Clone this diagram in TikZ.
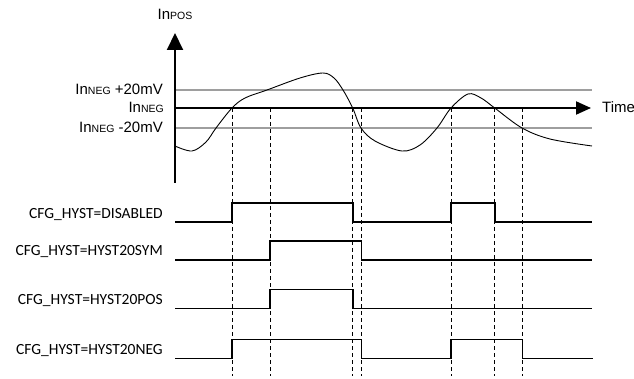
\documentclass[tikz,border=0pt]{standalone}
\usepackage{fontspec}
\setmainfont{Liberation Sans}
\newfontfamily\calfont{Carlito}
\usetikzlibrary{arrows.meta}
\tikzset{
  axisline/.style={line width=2pt, black},
  refline/.style={line width=1.5pt, black!38},
  guide/.style={line width=0.9pt, black, dash pattern=on 4pt off 3pt},
  sig/.style={line width=1.6pt, black, line join=miter},
  toplabel/.style={inner sep=0pt, font=\fontsize{15}{18}\selectfont},
  siglabel/.style={inner sep=0pt, anchor=base east, font=\calfont\fontsize{15.5}{18}\selectfont},
}
\newcommand{\smallc}[1]{{\fontsize{10.5}{12}\selectfont #1}}
\begin{document}
\begin{tikzpicture}[x=1pt,y=-1pt]
\useasboundingbox (0,0) rectangle (634,379);
% reference lines
\draw[refline] (175,90) -- (592,90);
\draw[refline] (175,128) -- (592,128);
% curve
\draw[line width=0.9pt] plot[smooth, tension=0.55] coordinates {
 (175,146) (192,151) (206,142) (216,128) (232,108) (245,98) (267,90) (300,78)
 (323,73) (334,78) (343,90) (352.7,108) (361,128) (375,141) (402,151) (420,145)
 (437,128) (451,108) (468,94) (481,98) (494.7,108) (522,128) (550,139) (592,146)};
% axes
\draw[axisline, -{Triangle[length=17pt,width=16pt]}] (175,183) -- (175,33);
\draw[axisline, -{Triangle[length=15pt,width=13pt]}] (175,108) -- (591,108);
% labels
\node[toplabel, anchor=base] (inpos) at (175,20) {In\smallc{POS}};
\node[toplabel, anchor=base east] (lp) at (163,95) {In\smallc{NEG} +20mV};
\node[toplabel, anchor=base east] (ln) at (164,113) {In\smallc{NEG}};
\node[toplabel, anchor=base east] (lm) at (163,132.7) {In\smallc{NEG} -20mV};
\node[toplabel, anchor=base west] (time) at (602,113) {Time};
% guides
\foreach \x in {232,270,352.7,361.3,451,494.7,522.3}
  \draw[guide] (\x,108) -- (\x,376);
% signals
\draw[sig] (175,222.3) -- (232,222.3) -- (232,203.3) -- (352.7,203.3) -- (352.7,222.3)
  -- (451,222.3) -- (451,203.3) -- (494.7,203.3) -- (494.7,222.3) -- (592,222.3);
\draw[sig] (175,260) -- (270,260) -- (270,241.3) -- (361.3,241.3) -- (361.3,260) -- (592,260);
\draw[sig] (175,308.3) -- (270,308.3) -- (270,289.3) -- (352.7,289.3) -- (352.7,308.3) -- (592,308.3);
\draw[sig] (175,358.3) -- (232,358.3) -- (232,339.3) -- (361.3,339.3) -- (361.3,358.3)
  -- (451,358.3) -- (451,339.3) -- (522.3,339.3) -- (522.3,358.3) -- (593,358.3);
\node[siglabel] (s1) at (163,218.3) {CFG\_HYST=DISABLED};
\node[siglabel] (s2) at (163,256) {CFG\_HYST=HYST20SYM};
\node[siglabel] (s3) at (163,304.3) {CFG\_HYST=HYST20POS};
\node[siglabel] (s4) at (163,354.3) {CFG\_HYST=HYST20NEG};
\end{tikzpicture}
\end{document}
